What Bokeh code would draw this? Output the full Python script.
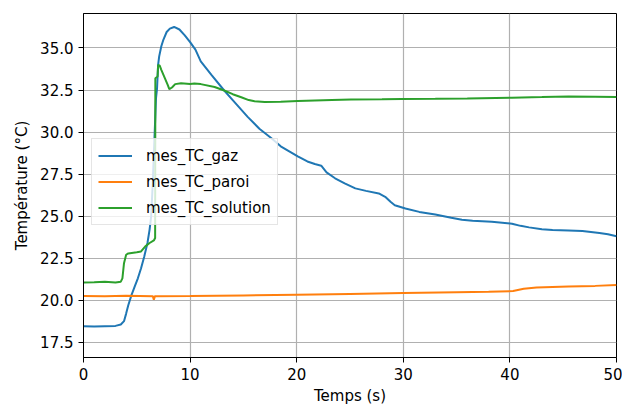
from bokeh.plotting import figure
from bokeh.models import FixedTicker, NumeralTickFormatter, Range1d, Legend, LegendItem
from bokeh.embed import file_html
from bokeh.resources import INLINE

# --- data ---
t_gaz = [0, 1, 2, 3, 3.5, 3.8, 4.0, 4.2, 4.5, 4.8, 5.1, 5.4, 5.7, 6.0, 6.2, 6.35, 6.5, 6.65,
         6.8, 6.9, 7.0, 7.1, 7.3, 7.5, 7.8, 8.1, 8.5, 9.0, 9.5, 10.0, 10.5, 11.0, 12.0, 13.2,
         14.0, 15.4, 16.5, 17.6, 18.5, 19.3, 20.1, 21.0, 21.7, 22.3, 22.8, 23.6, 24.5, 25.5,
         26.5, 27.7, 28.3, 28.8, 29.2, 30.2, 31.5, 33.0, 34.5, 35.5, 36.5, 38.3, 40.2, 41.0,
         41.8, 43.0, 44.0, 45.5, 46.8, 48.4, 49.2, 50]
mes_TC_gaz = [18.45, 18.43, 18.45, 18.47, 18.55, 18.75, 19.2, 19.7, 20.3, 20.8, 21.3, 21.9,
              22.6, 23.4, 24.2, 25.0, 27.0, 29.5, 32.0, 32.6, 34.0, 34.5, 35.1, 35.5, 35.95,
              36.15, 36.25, 36.1, 35.75, 35.35, 34.9, 34.2, 33.4, 32.47, 31.9, 30.9, 30.2,
              29.65, 29.15, 28.85, 28.55, 28.25, 28.1, 28.0, 27.6, 27.25, 26.95, 26.65, 26.5,
              26.35, 26.15, 25.85, 25.65, 25.45, 25.25, 25.1, 24.9, 24.78, 24.72, 24.67, 24.55,
              24.42, 24.33, 24.22, 24.17, 24.15, 24.12, 24.0, 23.92, 23.8]

t_paroi = [0, 2, 4, 6.5, 6.6, 6.7, 10, 15, 20, 25, 30, 35, 38, 40.3, 41.3, 42.5, 45.5, 48, 50]
mes_TC_paroi = [20.25, 20.24, 20.26, 20.24, 20.02, 20.24, 20.25, 20.28, 20.32, 20.37, 20.42,
                20.47, 20.5, 20.54, 20.68, 20.75, 20.82, 20.85, 20.9]

t_solution = [0, 1, 2, 3, 3.5, 3.65, 3.8, 4.0, 4.2, 5.0, 5.4, 5.8, 6.2, 6.6, 6.72, 6.74, 6.95,
              7.0, 7.15, 7.3, 7.6, 7.9, 8.05, 8.3, 8.6, 9.15, 10.0, 10.4, 11.0, 12.3, 13.2, 14.0,
              14.8, 15.5, 16.05, 17.0, 18.5, 20.1, 23.3, 25.1, 28, 29.85, 33, 36, 40.2, 43,
              45.5, 48, 50]
mes_TC_solution = [21.05, 21.07, 21.1, 21.05, 21.1, 21.3, 22.2, 22.7, 22.78, 22.85, 22.9, 23.2,
                   23.4, 23.55, 23.7, 33.2, 33.3, 34.0, 33.95, 33.7, 33.25, 32.8, 32.55, 32.65,
                   32.85, 32.9, 32.85, 32.88, 32.85, 32.68, 32.47, 32.25, 32.07, 31.9, 31.83,
                   31.78, 31.8, 31.84, 31.9, 31.93, 31.95, 31.97, 31.98, 32.0, 32.04, 32.08,
                   32.12, 32.1, 32.08]

x_ticks = [0, 10, 20, 30, 40, 50]
y_ticks = [17.5, 20.0, 22.5, 25.0, 27.5, 30.0, 32.5, 35.0]

FONT = "DejaVu Sans"
FS = "15px"

p = figure(width=622, height=407, output_backend="svg", toolbar_location=None,
           x_range=Range1d(0, 50), y_range=Range1d(16.59, 37.05),
           min_border_left=83, min_border_right=6, min_border_top=13, min_border_bottom=49)

p.outline_line_color = "black"
p.outline_line_width = 1
p.outline_line_alpha = 1

for ax in (p.xaxis[0], p.yaxis[0]):
    ax.axis_line_color = "black"
    ax.major_tick_out = 5
    ax.major_tick_in = 0
    ax.minor_tick_line_color = None
    ax.major_label_text_font = FONT
    ax.major_label_text_font_size = FS
    ax.major_label_text_color = "black"
    ax.axis_label_text_font = FONT
    ax.axis_label_text_font_size = FS
    ax.axis_label_text_font_style = "normal"
    ax.axis_label_text_color = "black"
    ax.major_label_standoff = 5

p.xaxis[0].ticker = FixedTicker(ticks=x_ticks)
p.xaxis[0].formatter = NumeralTickFormatter(format="0")
p.yaxis[0].ticker = FixedTicker(ticks=y_ticks)
p.yaxis[0].formatter = NumeralTickFormatter(format="0.0")
p.xaxis[0].axis_label = "Temps (s)"
p.yaxis[0].axis_label = "Température (°C)"
p.xaxis[0].axis_label_standoff = 4
p.yaxis[0].axis_label_standoff = 6

p.grid.grid_line_color = "#b0b0b0"
p.grid.grid_line_width = 1.2
p.xgrid.ticker = FixedTicker(ticks=x_ticks)
p.ygrid.ticker = FixedTicker(ticks=y_ticks)

r1 = p.line(t_gaz, mes_TC_gaz, line_color="#1f77b4", line_width=2)
r2 = p.line(t_paroi, mes_TC_paroi, line_color="#ff7f0e", line_width=2)
r3 = p.line(t_solution, mes_TC_solution, line_color="#2ca02c", line_width=2)

legend = Legend(items=[LegendItem(label="mes_TC_gaz", renderers=[r1]),
                       LegendItem(label="mes_TC_paroi", renderers=[r2]),
                       LegendItem(label="mes_TC_solution", renderers=[r3])],
                location=(8, 132), margin=0, padding=6, spacing=5,
                label_height=21, glyph_height=21, glyph_width=34, label_standoff=14,
                label_text_font=FONT, label_text_font_size=FS, label_text_color="black",
                border_line_color="#cccccc", border_line_width=1,
                background_fill_color="white", background_fill_alpha=0.8)
p.add_layout(legend, "center")

open("out.html", "w").write(file_html(p, INLINE))
